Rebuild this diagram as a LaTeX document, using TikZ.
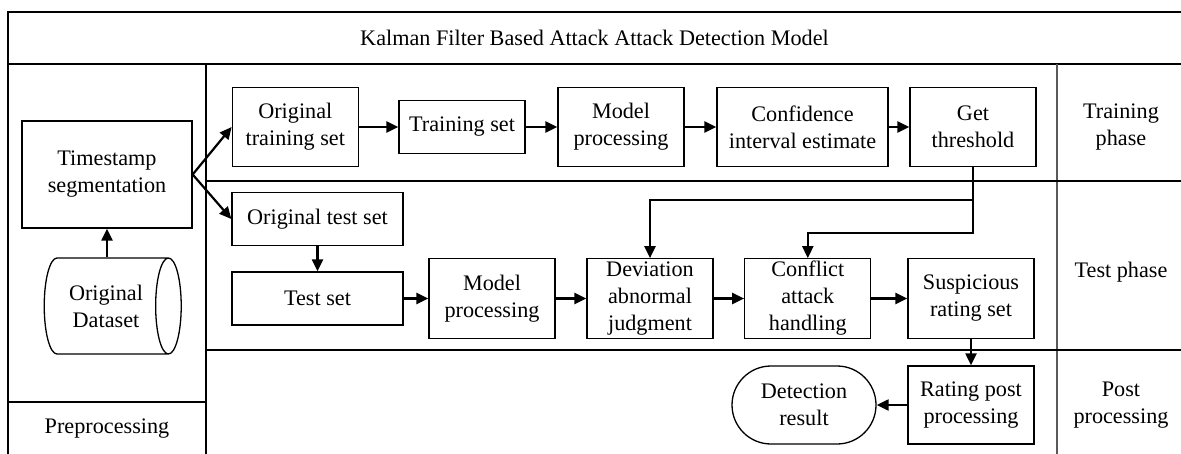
\documentclass[tikz,border=0pt]{standalone}
\usepackage{fontspec}
\setmainfont{Liberation Serif}
\usetikzlibrary{arrows.meta,shapes.geometric}
\begin{document}
\begin{tikzpicture}[x=0.5pt, y=-0.5pt, font=\fontsize{11.1}{13.5}\selectfont, align=center]
    \tikzstyle{every node} = [inner sep=0pt]
    \tikzstyle{box} = [rectangle, draw, line width=0.65pt, minimum height=39.7pt]
    \tikzstyle{small} = [box, minimum width=63pt]
    \tikzstyle{wide} = [box, minimum width=85.5pt]
    \tikzstyle{flat} = [minimum height=26.5pt]
    \tikzstyle{arr} = [line width=1.1pt, -{Triangle[length=6pt,width=5.5pt]}]
    \tikzstyle{frame} = [line width=0.6pt]

    \useasboundingbox (0,0) rectangle (1181,454);

    % frame and lanes
    \draw [frame] (1181,12) -- (8,12) -- (8,454);
    \draw [frame] (8,64) -- (1181,64);
    \draw [frame] (206,64) -- (206,454);
    \draw [frame, black!65] (1057,64) -- (1057,454);
    \draw [frame] (206,181) -- (1181,181);
    \draw [frame] (206,350) -- (1181,350);
    \draw [frame] (8,402) -- (206,402);

    \node (t) at (594.5,38) {Kalman Filter Based Attack Attack Detection Model};
    \node (p1) at (1121,127) {Training\\phase};
    \node (p2) at (1121,272) {Test phase};
    \node (p3) at (1121,405) {Post\\processing};
    \node (p0) at (107,429) {Preprocessing};

    % preprocessing
    \node (a) at (107,174.5) [wide, minimum width=85pt, minimum height=53.5pt] {Timestamp\\segmentation};
    \node (o) at (106,306) [cylinder, draw, line width=0.65pt, minimum width=48pt, minimum height=68.5pt, aspect=0.6] {Original\\Dataset};

    % training phase
    \node (b) at (295.3,127) [small] {Original\\training set};
    \node (c) at (462,127) [small, flat] {Training set};
    \node (d) at (621,127) [small] {Model\\processing};
    \node (e) at (802.5,127) [wide] {Confidence\\interval estimate};
    \node (f) at (973,127) [small] {Get\\threshold};

    % test phase
    \node (g) at (317.5,219) [wide, flat] {Original test set};
    \node (h) at (317.5,298.5) [wide, flat] {Test set};
    \node (i) at (492,298.5) [small] {Model\\processing};
    \node (j) at (650,298.5) [small] {Deviation\\abnormal\\judgment};
    \node (k) at (807.8,298.5) [small] {Conflict\\attack\\handling};
    \node (l) at (971,298.5) [small] {Suspicious\\rating set};

    % post processing
    \node (m) at (971,405) [small, minimum height=39pt] {Rating post\\processing};
    \node (n) at (804,405) [box, rounded corners=19.5pt, minimum width=72pt, minimum height=39pt] {Detection\\result};

    \draw [arr] (a.south |- o.north) -- (a.south);
    \draw [arr] (a.east) -- (b.west);
    \draw [arr] (a.east) -- (g.west);
    \draw [arr] (b) -- (c);
    \draw [arr] (c) -- (d);
    \draw [arr] (d) -- (e);
    \draw [arr] (e) -- (f);
    \draw [arr] (f.south) -- ++(0,33) -| (j.north);
    \draw [arr] (f.south) -- ++(0,66) -| (k.north);
    \draw [arr] (g) -- (h);
    \draw [arr] (h) -- (i);
    \draw [arr] (i) -- (j);
    \draw [arr] (j) -- (k);
    \draw [arr] (k) -- (l);
    \draw [arr] (l) -- (m);
    \draw [arr] (m) -- (n);
\end{tikzpicture}
\end{document}
